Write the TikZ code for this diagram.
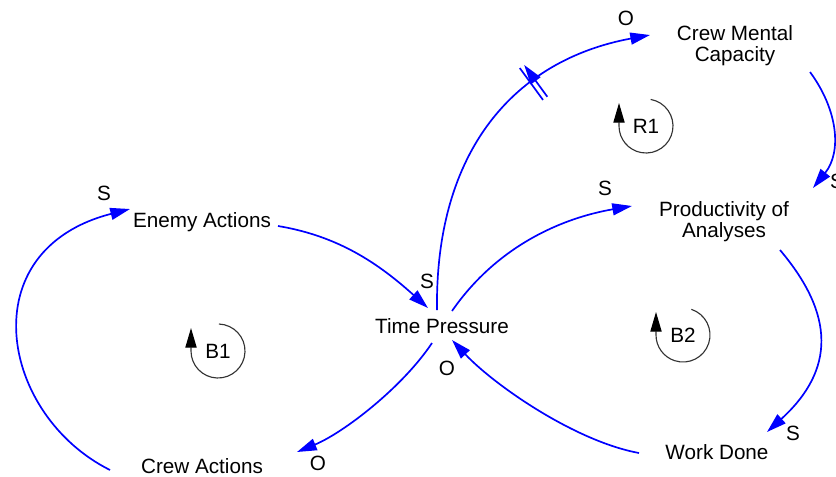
\documentclass[tikz,border=0pt]{standalone}
\usepackage{fontspec}
\setmainfont{Liberation Sans}
\usetikzlibrary{arrows.meta,decorations.markings}

\begin{document}
\begin{tikzpicture}[x=0.025cm, y=-0.025cm,
  var/.style={inner sep=0pt, align=center, font=\fontsize{14.7}{15}\selectfont},
  pol/.style={inner sep=0pt, font=\fontsize{14.7}{15}\selectfont},
  link/.style={draw=blue, line width=1.2pt, -{Triangle[length=14pt, width=8.5pt]}},
  loopsym/.style={draw=black!80, line width=0.8pt, -{Triangle[length=14pt, width=8pt, color=black]}},
  delaymark/.style={postaction=decorate, decoration={markings, mark=at position #1 with {
      \draw[blue, line width=1.2pt] (-1.9pt,-14pt) -- (-1.9pt,14pt) (1.9pt,-14pt) -- (1.9pt,14pt);}}}
]
  \useasboundingbox (0,0) rectangle (836,476);

  % variables
  \node[var] (ea)  at (202,222) {Enemy Actions};
  \node[var] (tp)  at (442,326) {Time Pressure};
  \node[var] (cmc) at (735,46)  {Crew Mental\\Capacity};
  \node[var] (pa)  at (724,222) {Productivity of\\Analyses};
  \node[var] (wd)  at (717,452) {Work Done};
  \node[var] (ca)  at (202,466) {Crew Actions};

  % links
  \draw[link] ([shift={(-92,4)}]ca.center) .. controls +(-110,-55) and +(-160,41) .. ([shift={(-72,-13)}]ea.center);
  \draw[link] ([shift={(76,4)}]ea.center) .. controls +(60,10) and +(-50,-45) .. ([shift={(-14,-18)}]tp.center);
  \draw[link, delaymark=0.67] ([shift={(-5,-16)}]tp.center) .. controls +(-2,-160) and +(-135,25) .. ([shift={(-85,-11)}]cmc.center);
  \draw[link] ([shift={(75,26)}]cmc.center) .. controls +(28,38) and +(29,-36) .. ([shift={(89,-34)}]pa.center);
  \draw[link] ([shift={(10,-15)}]tp.center) .. controls +(45,-65) and +(-70,12) .. ([shift={(-92,-16)}]pa.center);
  \draw[link] ([shift={(56,28)}]pa.center) .. controls +(55,65) and +(68,-62) .. ([shift={(50,-20)}]wd.center);
  \draw[link] ([shift={(-78,1)}]wd.center) .. controls +(-65,-12) and +(41,44) .. ([shift={(10,14)}]tp.center);
  \draw[link] ([shift={(-10,17)}]tp.center) .. controls +(-30,45) and +(46,-19) .. ([shift={(95,-14)}]ca.center);

  % polarities
  \node[pol] (p1) at (104,193) {S};
  \node[pol] (p2) at (427,281) {S};
  \node[pol] (p3) at (626,18)  {O};
  \node[pol] (p4) at (837,181) {S};
  \node[pol] (p5) at (605,188) {S};
  \node[pol] (p6) at (793,433) {S};
  \node[pol] (p7) at (447,368) {O};
  \node[pol] (p8) at (318,463) {O};

  % loops
  \node[var] (r1) at (646,126) {R1};
  \node[var] (b1) at (218,351) {B1};
  \node[var] (b2) at (683,335) {B2};
  \draw[loopsym] (r1.center) ++(-80:27) arc[start angle=-80, end angle=180, radius=27] -- ++(0,-23);
  \draw[loopsym] (b1.center) ++(-88:27) arc[start angle=-88, end angle=180, radius=27] -- ++(0,-23);
  \draw[loopsym] (b2.center) ++(-72:27) arc[start angle=-72, end angle=180, radius=27] -- ++(0,-23);
\end{tikzpicture}
\end{document}
